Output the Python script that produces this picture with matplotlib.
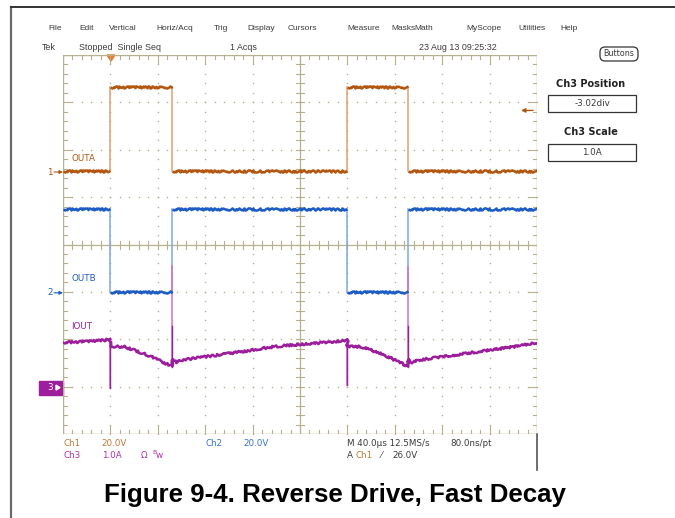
import matplotlib.pyplot as plt
from matplotlib.patches import Rectangle, FancyBboxPatch, Polygon

# scope settings
t_div = 40.0       # us / div
ch1_scale = 20.0   # V / div
ch2_scale = 20.0   # V / div
ch3_scale = 1.0    # A / div
ch1_pos = 1.53     # div
ch2_pos = -1.02
ch3_pos = -3.02
trig_t = 40.5
trig_level = 26.0

# OUTA (V): breakpoints and level between them
outa_t = [0, 40, 92, 240, 291, 400]
outa_v = [0.4, 35.8, 0.4, 35.8, 0.4]

# OUTB (V)
outb_t = [0, 40, 92, 240, 291, 400]
outb_v = [35.4, 0.3, 35.4, 0.3, 35.4]

# IOUT (A)
iout_t = [0, 20, 35, 40, 40, 52, 70, 91, 92, 92, 96, 100, 140, 180, 220, 240,
          240, 252, 270, 290, 291, 291, 295, 300, 340, 380, 400]
iout_a = [0.95, 0.97, 1.0, 1.02, 0.87, 0.86, 0.7, 0.46, 0.44, 0.6, 0.53, 0.58,
          0.72, 0.87, 0.95, 1.0, 0.87, 0.86, 0.7, 0.46, 0.44, 0.6, 0.53, 0.58,
          0.72, 0.86, 0.95]
spike_t = [40, 92, 240, 291]
spike_lo = [0.0, 0.44, 0.05, 0.44]
spike_hi = [1.02, 2.57, 1.0, 2.55]

menu_items = ['File', 'Edit', 'Vertical', 'Horiz/Acq', 'Trig', 'Display', 'Cursors',
              'Measure', 'Masks', 'Math', 'MyScope', 'Utilities', 'Help']
menu_x = [48, 79, 109, 156, 214, 247, 288, 347, 391, 414, 466, 518, 560]

c1 = '#b3560f'
c1_light = '#dca070'
c2 = '#1d5cc4'
c2_light = '#7aa8e8'
c3 = '#9c1e9c'
c3_light = '#d070d0'
grat = '#b8b08c'
txt = '#3a3a3a'
menu_font = ['Liberation Sans Narrow', 'Liberation Sans']

fig = plt.figure(figsize=(6.75, 5.18), dpi=100)
ov = fig.add_axes([0, 0, 1, 1])
ov.set_xlim(0, 675)
ov.set_ylim(518, 0)
ov.axis('off')

gl, gt, gr, gb = 63, 55, 537, 434
ax = fig.add_axes([gl / 675, 1 - gb / 518, (gr - gl) / 675, (gb - gt) / 518])
ax.set_xlim(0, 10 * t_div)
ax.set_ylim(-4, 4)
ax.axis('off')
px_x = 10 * t_div / (gr - gl)
px_y = 8.0 / (gb - gt)

# graticule
ax.add_patch(Rectangle((0, -4), 10 * t_div, 8, fill=False, ec=grat, lw=1.0, zorder=1))
ax.plot([5 * t_div, 5 * t_div], [-4, 4], color=grat, lw=0.9, zorder=1)
ax.plot([0, 10 * t_div], [0, 0], color=grat, lw=0.9, zorder=1)
dot_x = [k * t_div / 5 for k in range(51)]
dot_y = [-4 + k * 0.2 for k in range(41)]
for d in range(1, 10):
    if d != 5:
        ax.plot([d * t_div] * len(dot_y), dot_y, ls='none', marker='s', ms=1.0,
                mec='none', mfc=grat, zorder=1)
for d in range(-3, 4):
    if d != 0:
        ax.plot(dot_x, [d] * len(dot_x), ls='none', marker='s', ms=1.0,
                mec='none', mfc=grat, zorder=1)
for k in range(51):
    x = k * t_div / 5
    L = 8 if k % 5 == 0 else 4
    ax.plot([x, x], [4, 4 - L * px_y], color=grat, lw=0.8, zorder=1)
    ax.plot([x, x], [-4, -4 + L * px_y], color=grat, lw=0.8, zorder=1)
    ax.plot([x, x], [-4 * px_y, 4 * px_y], color=grat, lw=0.8, zorder=1)
for k in range(41):
    y = -4 + k * 0.2
    L = 8 if k % 5 == 0 else 4
    ax.plot([0, L * px_x], [y, y], color=grat, lw=0.8, zorder=1)
    ax.plot([10 * t_div, 10 * t_div - L * px_x], [y, y], color=grat, lw=0.8, zorder=1)
    ax.plot([5 * t_div - 4 * px_x, 5 * t_div + 4 * px_x], [y, y], color=grat, lw=0.8, zorder=1)


def square_trace(ts, vs, scale, pos, dark, light):
    for i in range(len(vs)):
        y = vs[i] / scale + pos
        ln, = ax.plot([ts[i], ts[i + 1]], [y, y], color=dark, lw=1.8, zorder=3,
                      solid_capstyle='butt')
        ln.set_sketch_params(scale=1.1, length=3, randomness=4)
        if i > 0:
            ax.plot([ts[i], ts[i]], [vs[i - 1] / scale + pos, y], color=light,
                    lw=1.1, zorder=2)


square_trace(outa_t, outa_v, ch1_scale, ch1_pos, c1, c1_light)
square_trace(outb_t, outb_v, ch2_scale, ch2_pos, c2, c2_light)

for t, lo, hi in zip(spike_t, spike_lo, spike_hi):
    ax.plot([t, t], [lo / ch3_scale + ch3_pos, hi / ch3_scale + ch3_pos],
            color=c3_light, lw=1.1, zorder=2)
    ax.plot([t, t], [lo / ch3_scale + ch3_pos, min(hi, 1.3) / ch3_scale + ch3_pos],
            color=c3, lw=1.0, zorder=2)
ln, = ax.plot(iout_t, [a / ch3_scale + ch3_pos for a in iout_a], color=c3, lw=1.8, zorder=3)
ln.set_sketch_params(scale=1.1, length=3, randomness=4)

# trace labels
ax.text(8 * px_x, ch1_pos + 14 * px_y, 'OUTA', color=c1, fontsize=6.3, va='center')
ax.text(8 * px_x, ch2_pos + 14 * px_y, 'OUTB', color=c2, fontsize=6.3, va='center')
ax.text(8 * px_x, ch3_pos + 61 * px_y, 'IOUT', color=c3, fontsize=6.3, va='center')

# channel markers
for lab, pos, col in [('1', ch1_pos, c1), ('2', ch2_pos, c2)]:
    yp = gt + (4 - pos) / px_y
    ov.text(53, yp, lab, color=col, fontsize=6.3, ha='right', va='center')
    ov.annotate('', xy=(63, yp), xytext=(54, yp),
                arrowprops=dict(arrowstyle='-|>', color=col, lw=0.8, mutation_scale=5,
                                shrinkA=0, shrinkB=0))
yp = gt + (4 - ch3_pos) / px_y
ov.add_patch(Rectangle((39, yp - 7), 24, 14, color=c3, zorder=2))
ov.text(50, yp, '3', color='white', fontsize=6.3, ha='center', va='center', zorder=3)
ov.add_patch(Polygon([(56, yp - 2.5), (60, yp), (56, yp + 2.5)], color='white', zorder=3))

# trigger markers
xt = gl + trig_t / px_x
ov.add_patch(Polygon([(xt - 4, gt), (xt + 4, gt), (xt, gt + 6)], color='#f07020', zorder=4))
yl = gt + (4 - (trig_level / ch1_scale + ch1_pos)) / px_y
ov.annotate('', xy=(521, yl), xytext=(533, yl),
            arrowprops=dict(arrowstyle='-|>', color=c1, lw=1.0, mutation_scale=6,
                            shrinkA=0, shrinkB=0))

# page frame
ov.plot([11, 11], [7, 518], color='#6a6a6a', lw=1.6)
ov.plot([11, 675], [7, 7], color='#333333', lw=1.4)
ov.plot([gr, gr], [gb, 470], color='#555555', lw=1.2)

# menu bar
for m, x in zip(menu_items, menu_x):
    ov.text(x, 28, m, color=txt, fontsize=6.0, va='center', family=menu_font)
ov.text(42, 47, 'Tek', color=txt, fontsize=6.4, va='center', family=menu_font)
ov.text(79, 47, 'Stopped  Single Seq', color=txt, fontsize=6.4, va='center', family=menu_font)
ov.text(230, 47, '1 Acqs', color=txt, fontsize=6.4, va='center', family=menu_font)
ov.text(419, 47, '23 Aug 13 09:25:32', color=txt, fontsize=6.4, va='center', family=menu_font)

# right panel
ov.add_patch(FancyBboxPatch((600, 47), 38, 14, boxstyle='round,pad=0,rounding_size=5',
                            fc='white', ec='#333333', lw=0.9))
ov.text(619, 54, 'Buttons', color=txt, fontsize=5.8, ha='center', va='center')
ov.text(591, 84, 'Ch3 Position', color='#222222', fontsize=7, ha='center', va='center',
        fontweight='bold')
ov.add_patch(Rectangle((548, 95), 88, 17, fill=False, ec='#333333', lw=0.9))
ov.text(592, 103.5, '-3.02div', color=txt, fontsize=6.3, ha='center', va='center')
ov.text(591, 132, 'Ch3 Scale', color='#222222', fontsize=7, ha='center', va='center',
        fontweight='bold')
ov.add_patch(Rectangle((548, 144), 88, 17, fill=False, ec='#333333', lw=0.9))
ov.text(592, 152.5, '1.0A', color=txt, fontsize=6.3, ha='center', va='center')

# bottom readouts
ov.text(63, 443, 'Ch1', color='#c07838', fontsize=6.3, va='center')
ov.text(101, 443, '20.0V', color='#c07838', fontsize=6.3, va='center')
ov.text(205, 443, 'Ch2', color='#3a72d0', fontsize=6.3, va='center')
ov.text(243, 443, '20.0V', color='#3a72d0', fontsize=6.3, va='center')
ov.text(63, 455, 'Ch3', color='#b030b0', fontsize=6.3, va='center')
ov.text(102, 455, '1.0A', color='#b030b0', fontsize=6.3, va='center')
ov.text(141, 455, 'Ω', color='#b030b0', fontsize=6.3, va='center')
ov.text(152, 453, 'B', color='#b030b0', fontsize=4.5, va='center')
ov.text(156, 456, 'w', color='#b030b0', fontsize=6.3, va='center')
ov.text(347, 443, 'M 40.0µs 12.5MS/s', color=txt, fontsize=6.3, va='center')
ov.text(450, 443, '80.0ns/pt', color=txt, fontsize=6.3, va='center')
ov.text(347, 455, 'A', color=txt, fontsize=6.3, va='center')
ov.text(356, 455, 'Ch1', color='#c07838', fontsize=6.3, va='center')
ov.text(381, 455, '⁄', color=txt, fontsize=6.3, va='center')
ov.text(392, 455, '26.0V', color=txt, fontsize=6.3, va='center')

ov.text(335, 502, 'Figure 9-4. Reverse Drive, Fast Decay', fontsize=18.6, fontweight='bold',
        family='Liberation Sans', ha='center', va='baseline', color='black')

fig.savefig('out.png', dpi=100)
